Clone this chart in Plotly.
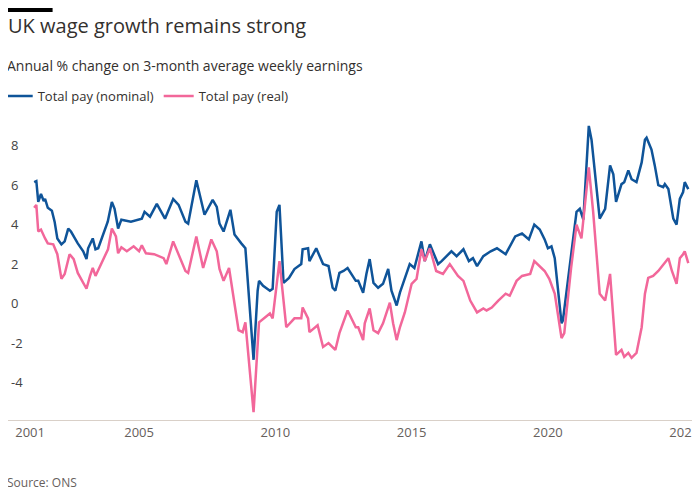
import plotly.graph_objects as go

nom_x = [2001.15,2001.23,2001.3,2001.4,2001.5,2001.55,2001.65,2001.8,2001.9,2002.0,2002.15,2002.27,2002.4,2002.5,2002.75,2002.95,2003.07,2003.13,2003.3,2003.4,2003.5,2003.75,2003.85,2004.0,2004.1,2004.23,2004.35,2004.7,2005.1,2005.2,2005.4,2005.65,2005.95,2006.25,2006.45,2006.7,2006.8,2007.1,2007.4,2007.7,2007.85,2007.95,2008.1,2008.35,2008.5,2008.75,2008.9,2009.2,2009.35,2009.4,2009.55,2009.8,2009.9,2010.05,2010.15,2010.3,2010.5,2010.7,2010.95,2011.0,2011.2,2011.25,2011.5,2011.75,2011.95,2012.1,2012.2,2012.35,2012.5,2012.65,2012.95,
         2013.04,2013.22,2013.34,2013.46,2013.6,2013.77,2013.95,2014.14,2014.26,2014.45,2014.57,2014.8,2014.93,2015.1,2015.36,2015.48,2015.67,2015.97,2016.1,2016.46,2016.65,2016.9,2017.1,2017.25,2017.4,2017.63,2017.9,2018.13,2018.45,2018.8,2019.05,2019.3,2019.5,2019.7,2019.88,2020.0,2020.13,2020.25,2020.5,2020.55,2020.8,2021.05,2021.17,2021.3,2021.5,2021.6,2021.9,2022.1,2022.28,2022.4,2022.5,2022.7,2022.8,2022.95,2023.07,2023.25,2023.44,2023.56,2023.62,2023.8,2023.92,2024.05,2024.23,2024.29,2024.42,2024.6,2024.72,2024.84,2024.96,2025.02,2025.15]
nom_y = [6.15,6.2,5.15,5.55,5.2,5.3,4.85,4.7,4.15,3.3,3.0,3.15,3.8,3.65,3.05,2.65,2.25,2.8,3.3,2.75,2.8,3.8,4.15,5.15,4.8,3.8,4.25,4.15,4.3,4.65,4.4,5.05,4.3,5.3,5.0,4.15,4.05,6.25,4.5,5.25,4.9,4.05,3.65,4.75,3.5,3.05,2.8,-2.85,0.65,1.15,0.9,0.65,0.75,4.65,5.0,1.05,1.3,1.75,2.0,2.75,2.8,2.15,2.8,2.0,1.9,0.8,0.65,1.55,1.65,1.8,1.15,
         1.15,0.55,1.5,2.25,1.05,0.8,1.0,1.75,0.65,-0.1,0.55,1.5,2.0,1.8,3.15,2.15,3.0,2.0,2.15,2.65,2.4,2.75,2.15,2.3,1.9,2.4,2.65,2.8,2.5,3.4,3.55,3.25,4.0,3.75,3.25,2.8,2.9,2.3,-1.0,-0.85,2.0,4.65,4.8,4.25,9.0,8.3,4.3,4.8,7.0,6.55,5.15,6.05,6.15,6.75,6.3,6.15,7.15,8.3,8.4,7.8,7.0,6.0,5.9,6.05,5.8,4.3,4.0,5.3,5.65,6.15,5.8]

real_x = [2001.15,2001.23,2001.3,2001.4,2001.55,2001.65,2001.85,2002.0,2002.15,2002.27,2002.45,2002.6,2002.75,2003.07,2003.2,2003.3,2003.4,2003.6,2003.86,2004.0,2004.15,2004.23,2004.35,2004.55,2004.8,2005.0,2005.1,2005.25,2005.55,2005.9,2006.0,2006.25,2006.45,2006.7,2006.8,2007.1,2007.35,2007.65,2007.85,2007.95,2008.1,2008.3,2008.65,2008.8,2008.9,2009.2,2009.4,2009.8,2009.9,2010.15,2010.4,2010.7,2010.95,2011.0,2011.2,2011.25,2011.55,2011.75,2011.95,2012.2,2012.35,2012.5,2012.65,2012.95,
          2013.04,2013.22,2013.28,2013.46,2013.6,2013.77,2013.95,2014.2,2014.32,2014.45,2014.57,2014.75,2015.0,2015.18,2015.36,2015.48,2015.67,2015.9,2016.15,2016.4,2016.7,2016.9,2017.15,2017.4,2017.63,2017.75,2017.94,2018.18,2018.45,2018.6,2018.85,2019.05,2019.35,2019.5,2019.7,2019.88,2020.05,2020.25,2020.5,2020.6,2020.85,2021.05,2021.1,2021.23,2021.5,2021.66,2021.9,2022.1,2022.28,2022.5,2022.7,2022.8,2022.95,2023.07,2023.25,2023.44,2023.56,2023.68,2023.86,2024.05,2024.42,2024.55,2024.72,2024.84,2024.96,2025.02,2025.15]
real_y = [4.85,5.0,3.65,3.75,3.3,3.05,3.0,2.5,1.25,1.5,2.5,2.25,1.55,0.75,1.4,1.8,1.4,2.0,2.75,3.8,3.4,2.55,2.85,2.65,2.9,2.65,2.95,2.55,2.5,2.3,2.0,3.15,2.5,1.65,1.55,3.4,1.8,3.25,2.65,1.75,1.15,1.8,-1.35,-1.45,-0.95,-5.5,-0.95,-0.5,-0.75,2.15,-1.2,-0.75,-0.75,-0.2,-0.75,-1.45,-1.1,-2.2,-2.0,-2.35,-1.5,-0.95,-0.35,-1.2,
          -1.2,-1.85,-1.0,-0.25,-1.35,-1.5,-1.0,0.05,-1.0,-1.85,-1.2,-0.45,1.0,1.25,2.75,2.15,2.8,1.65,1.5,2.0,1.4,1.15,0.15,-0.45,-0.25,-0.35,-0.2,0.15,0.5,0.4,1.15,1.4,1.5,2.15,1.9,1.65,1.25,0.5,-1.75,-1.5,1.8,4.0,3.8,3.3,6.9,4.65,0.5,0.15,1.5,-2.6,-2.35,-2.7,-2.5,-2.75,-2.5,-1.2,0.5,1.3,1.4,1.65,2.3,1.65,1.0,2.3,2.5,2.65,2.05]

x_ticks = [2001, 2005, 2010, 2015, 2020, 2025]
y_ticks = [-4, -2, 0, 2, 4, 6, 8]

fig = go.Figure()
fig.add_trace(go.Scatter(x=nom_x, y=nom_y, mode="lines", name="Total pay (nominal)",
                         line=dict(color="#0f5499", width=2.5)))
fig.add_trace(go.Scatter(x=real_x, y=real_y, mode="lines", name="Total pay (real)",
                         line=dict(color="#f2679a", width=2.5)))
font = "Open Sans"
fig.update_layout(
    width=700, height=500, plot_bgcolor="white", paper_bgcolor="white",
    margin=dict(l=0, r=14, t=112, b=88, autoexpand=False),
    font=dict(family=font, color="#66605c", size=13),
    title=dict(text="UK wage growth remains strong", x=0.0, xref="container", y=0.964, yanchor="middle",
               pad=dict(l=0), font=dict(size=20, color="#33302e", family=font)),
    legend=dict(orientation="h", x=-0.015, y=1.08, xanchor="left", yanchor="middle",
                font=dict(size=13, color="#33302e"), itemwidth=30),
    showlegend=True,
    xaxis=dict(range=[2000.19, 2025.36], tickvals=x_ticks, ticktext=[str(t) for t in x_ticks],
               showgrid=False, zeroline=False, showline=True, linecolor="#d9d0c8", ticks=""),
    yaxis=dict(range=[-5.9, 9.3], tickvals=y_ticks, ticktext=[str(t) for t in y_ticks],
               ticklabelposition="inside", showgrid=False, zeroline=False, showline=False),
)
fig.add_annotation(text="Annual % change on 3-month average weekly earnings", xref="paper", yref="paper",
                   x=0, y=1.183, xanchor="left", yanchor="middle", showarrow=False, xshift=-3,
                   font=dict(size=14, color="#33302e"))
fig.add_annotation(text="Source: ONS", xref="paper", yref="paper", x=0, y=-0.207, xshift=-3,
                   xanchor="left", yanchor="middle", showarrow=False, font=dict(size=12, color="#66605c"))
fig.add_shape(type="rect", xref="paper", yref="paper", x0=0, x1=0.065, y0=1.36, y1=1.373,
              fillcolor="black", line_width=0)
fig.write_html("out.html")
